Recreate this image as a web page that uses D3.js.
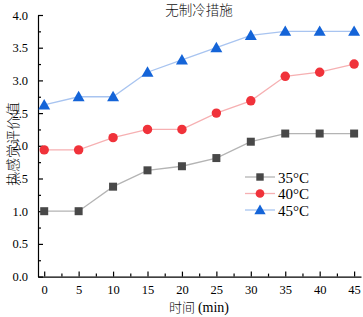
<html>
<head>
<script src="https://d3js.org/d3.v7.min.js"></script>
<style>
  html, body { margin: 0; padding: 0; background: #fff; }
  .axis path, .axis line { stroke: #000; stroke-width: 1.2px; fill: none; }
  .axis text { font-family: "Liberation Serif", serif; font-size: 12.5px; fill: #000; }
  .cjk { font-family: "Noto Sans CJK SC"; font-weight: 300; fill: #111; }
</style>
</head>
<body>
<svg id="chart" width="363" height="317"></svg>
<script>
// time points (min)
const times = [0, 5, 10, 15, 20, 25, 30, 35, 40, 45];
// thermal sensation values per outdoor temperature
const t35 = [1.0, 1.0, 1.375, 1.625, 1.6875, 1.8125, 2.0625, 2.1875, 2.1875, 2.1875];
const t40 = [1.9375, 1.9375, 2.125, 2.25, 2.25, 2.5, 2.6875, 3.0625, 3.125, 3.25];
const t45 = [2.625, 2.75, 2.75, 3.125, 3.3125, 3.5, 3.6875, 3.75, 3.75, 3.75];
const seriesNames = ["35°C", "40°C", "45°C"];
const yTicks = [0.0, 0.5, 1.0, 1.5, 2.0, 2.5, 3.0, 3.5, 4.0];
const xTicks = [0, 5, 10, 15, 20, 25, 30, 35, 40, 45];

const series = [
  {name: seriesNames[0], values: t35, marker: "#484848", line: "#b4b4b4", shape: d3.symbolSquare},
  {name: seriesNames[1], values: t40, marker: "#f0323a", line: "#f6b0b2", shape: d3.symbolCircle},
  {name: seriesNames[2], values: t45, marker: "#1464d8", line: "#a8c4f0", shape: d3.symbolTriangle}
];

const svg = d3.select("#chart");
const mLeft = 38, mRight = 361, mTop = 15, mBottom = 276.6;

const x = d3.scaleLinear().domain([-0.9, 46]).range([mLeft, mRight]);
const y = d3.scaleLinear().domain([0, 4]).range([mBottom, mTop]);

// minor ticks
const xMinor = d3.range(2.5, 46, 5);
const yMinor = d3.range(0.25, 4, 0.5);

svg.append("g").attr("class", "axis")
  .attr("transform", `translate(0,${mBottom})`)
  .call(d3.axisBottom(x).tickValues(xTicks).tickSizeInner(-5).tickSizeOuter(0).tickPadding(9));
svg.append("g").attr("class", "axis")
  .attr("transform", `translate(0,${mBottom})`)
  .call(d3.axisBottom(x).tickValues(xMinor).tickSizeInner(-3).tickSizeOuter(0).tickFormat(""))
  .select(".domain").remove();

svg.append("g").attr("class", "axis")
  .attr("transform", `translate(${mLeft},0)`)
  .call(d3.axisLeft(y).tickValues(yTicks).tickFormat(d3.format(".1f")).tickSizeInner(-5).tickSizeOuter(0).tickPadding(10));
svg.append("g").attr("class", "axis")
  .attr("transform", `translate(${mLeft},0)`)
  .call(d3.axisLeft(y).tickValues(yMinor).tickSizeInner(-3).tickSizeOuter(0).tickFormat(""))
  .select(".domain").remove();

const line = d3.line().x((d, i) => x(times[i])).y(d => y(d));

series.forEach(s => {
  svg.append("path").datum(s.values)
    .attr("fill", "none").attr("stroke", s.line).attr("stroke-width", 1.3)
    .attr("d", line);
  const size = s.shape === d3.symbolTriangle ? 62 : (s.shape === d3.symbolCircle ? 70 : 64);
  svg.append("g").selectAll("path").data(s.values).join("path")
    .attr("transform", (d, i) => `translate(${x(times[i])},${y(d) + (s.shape === d3.symbolTriangle ? 1 : 0)})`)
    .attr("d", d3.symbol().type(s.shape).size(size))
    .attr("fill", s.marker);
});

// legend
const lg = svg.append("g").attr("transform", "translate(245,177)");
series.forEach((s, i) => {
  const row = lg.append("g").attr("transform", `translate(0,${i * 16.5})`);
  row.append("line").attr("x1", 0).attr("x2", 30).attr("y1", 0).attr("y2", 0)
    .attr("stroke", s.line).attr("stroke-width", 1.3);
  row.append("path").attr("transform", `translate(15,${s.shape === d3.symbolTriangle ? 1 : 0})`)
    .attr("d", d3.symbol().type(s.shape).size(s.shape === d3.symbolCircle ? 60 : 55))
    .attr("fill", s.marker);
  row.append("text").attr("x", 33).attr("y", 5.5)
    .style("font-family", "Liberation Serif, serif").style("font-size", "15px")
    .text(s.name);
});

// title
svg.append("text").attr("class", "cjk").attr("x", 199).attr("y", 15)
  .style("text-anchor", "middle").style("font-size", "13.5px")
  .text("无制冷措施");

// x label
svg.append("text").attr("x", 199).attr("y", 312)
  .style("text-anchor", "middle").style("font-size", "13px")
  .call(t => {
    t.append("tspan").attr("class", "cjk").text("时间 ");
    t.append("tspan").style("font-family", "Liberation Serif, serif").style("font-size", "14px").text("(min)");
  });

// y label
svg.append("text").attr("class", "cjk").attr("transform", "translate(18,144) rotate(-90)")
  .style("text-anchor", "middle").style("font-size", "14px")
  .text("热感觉评价值");
</script>
</body>
</html>
